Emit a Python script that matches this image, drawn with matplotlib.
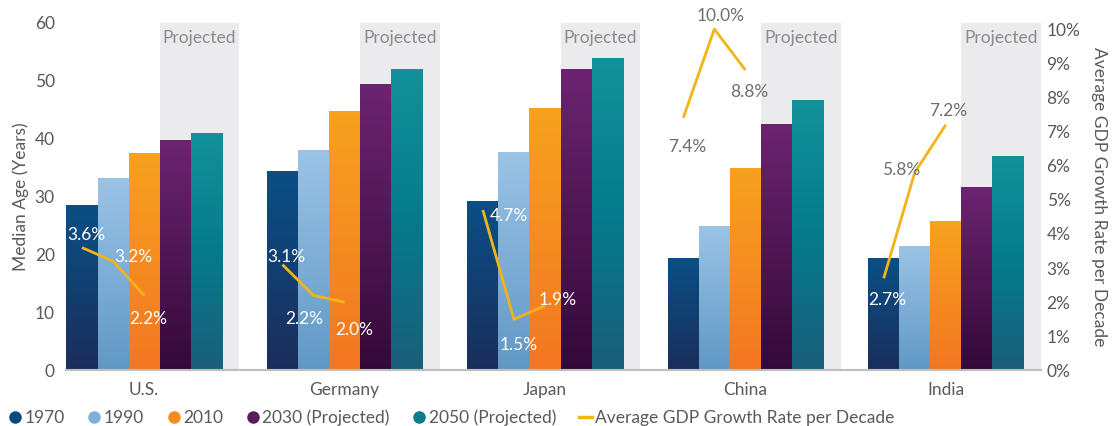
import numpy as np
import matplotlib.pyplot as plt
from matplotlib.colors import LinearSegmentedColormap
from matplotlib.lines import Line2D

plt.rcParams['font.family'] = ['Lato', 'DejaVu Sans']

countries = ['U.S.', 'Germany', 'Japan', 'China', 'India']
years = ['1970', '1990', '2010', '2030 (Projected)', '2050 (Projected)']
median_age = {
    '1970': [28.4, 34.2, 29.0, 19.2, 19.2],
    '1990': [33.0, 37.8, 37.5, 24.7, 21.3],
    '2010': [37.3, 44.6, 45.1, 34.7, 25.6],
    '2030 (Projected)': [39.6, 49.2, 51.8, 42.3, 31.4],
    '2050 (Projected)': [40.8, 51.8, 53.7, 46.4, 36.8],
}
# GDP growth per decade (1970s, 1990s, 2010s) for each country
gdp_growth = [
    [3.6, 3.2, 2.2],
    [3.1, 2.2, 2.0],
    [4.7, 1.5, 1.9],
    [7.4, 10.0, 8.8],
    [2.7, 5.8, 7.2],
]
# label offsets (pixels) and whether label sits on a bar (white) or not
label_style = [
    [((4, 13), 'w'), ((20, 4), 'w'), ((4, -24), 'w')],
    [((4, 8), 'w'), ((-9, -24), 'w'), ((10, -28), 'w')],
    [((26, -6), 'w'), ((5, -26), 'w'), ((13, 6), 'w')],
    [((4, -29), 'g'), ((6, 13), 'g'), ((4, -22), 'g')],
    [((4, -22), 'w'), ((-14, 2), 'g'), ((2, 14), 'g')],
]

# top / (middle) / bottom gradient stops for each series
grad = {
    '1970': ['#0a4f86', '#1b2e5c'],
    '1990': ['#9cc3e6', '#6098c5'],
    '2010': ['#f7a21f', '#f37622'],
    '2030 (Projected)': ['#6c2470', '#340938'],
    '2050 (Projected)': ['#13919a', '#047b8c', '#1b5e7b'],
}
legend_dot = {'1970': '#0c4a7e', '1990': '#7fb0da', '2010': '#f68b20',
              '2030 (Projected)': '#5a1c5e', '2050 (Projected)': '#0b7d8c'}
gold = '#f2b418'
grey = '#6d6e71'
fs = 12.5

fig = plt.figure(figsize=(11.2, 4.26), dpi=100)
ax = fig.add_axes([0.0589, 0.1303, 0.8706, 0.8167])
ax2 = ax.twinx()

w = 0.155
x = np.arange(len(countries))

for i in x:
    ax.axvspan(i + 0.5 * w, i + 0.475, ymin=0, ymax=1, color='#ebebed', zorder=0.5, lw=0)
    ax.text(i + (0.5 * w + 0.475) / 2, 57.3, 'Projected', ha='center', va='center',
            fontsize=fs, color='#8a8b8e', zorder=1)

for k, yr in enumerate(years):
    cmap = LinearSegmentedColormap.from_list(yr, grad[yr][::-1])
    g = np.linspace(0, 1, 256).reshape(-1, 1)
    for i, v in enumerate(median_age[yr]):
        x0 = i + (k - 2.5) * w
        ax.imshow(g, cmap=cmap, extent=(x0, x0 + w, 0, v), origin='lower',
                  aspect='auto', zorder=2, interpolation='bilinear')
ax.set_xlim(-0.39, 4.475)
ax.set_ylim(0, 60)

ax2.set_ylim(0, 10.19)
for i, vals in enumerate(gdp_growth):
    xs = [i + (k - 2) * w for k in range(3)]
    ax2.plot(xs, vals, color=gold, lw=2.0, solid_capstyle='butt', zorder=3)
    for xv, v, (off, c) in zip(xs, vals, label_style[i]):
        ax2.annotate(f'{v:.1f}%', (xv, v), xytext=off, textcoords='offset pixels',
                     ha='center', va='center', fontsize=fs,
                     color='white' if c == 'w' else grey, zorder=4)

ax.set_xticks(x)
ax.set_xticklabels(countries)
ax.set_yticks(range(0, 61, 10))
ax2.set_yticks(range(0, 11))
ax2.set_yticklabels([f'{t}%' for t in range(0, 11)])
for a in (ax, ax2):
    for s in a.spines.values():
        s.set_visible(False)
    a.tick_params(length=0, labelsize=fs, labelcolor='#595959')
ax.spines['bottom'].set_visible(True)
ax.spines['bottom'].set_color('#bfbfbf')
ax.spines['bottom'].set_linewidth(1.5)
ax.tick_params(axis='x', pad=8)
ax.tick_params(axis='y', pad=8)
ax2.tick_params(axis='y', pad=4)
ax.set_ylabel('Median Age (Years)', fontsize=fs, color='#595959', labelpad=4)
ax2.set_ylabel('Average GDP Growth Rate per Decade', fontsize=fs, color='#595959',
               rotation=-90, labelpad=19)

handles = [Line2D([], [], marker='o', ls='', markersize=8, color=legend_dot[yr]) for yr in years]
handles.append(Line2D([], [], color=gold, lw=2.5))
fig.legend(handles, years + ['Average GDP Growth Rate per Decade'], loc='center left',
           bbox_to_anchor=(-0.006, 0.02), ncol=6, frameon=False, fontsize=fs,
           handlelength=0.7, handletextpad=0.2, columnspacing=1.35, labelcolor='#595959')

fig.savefig('out.png', dpi=100)
